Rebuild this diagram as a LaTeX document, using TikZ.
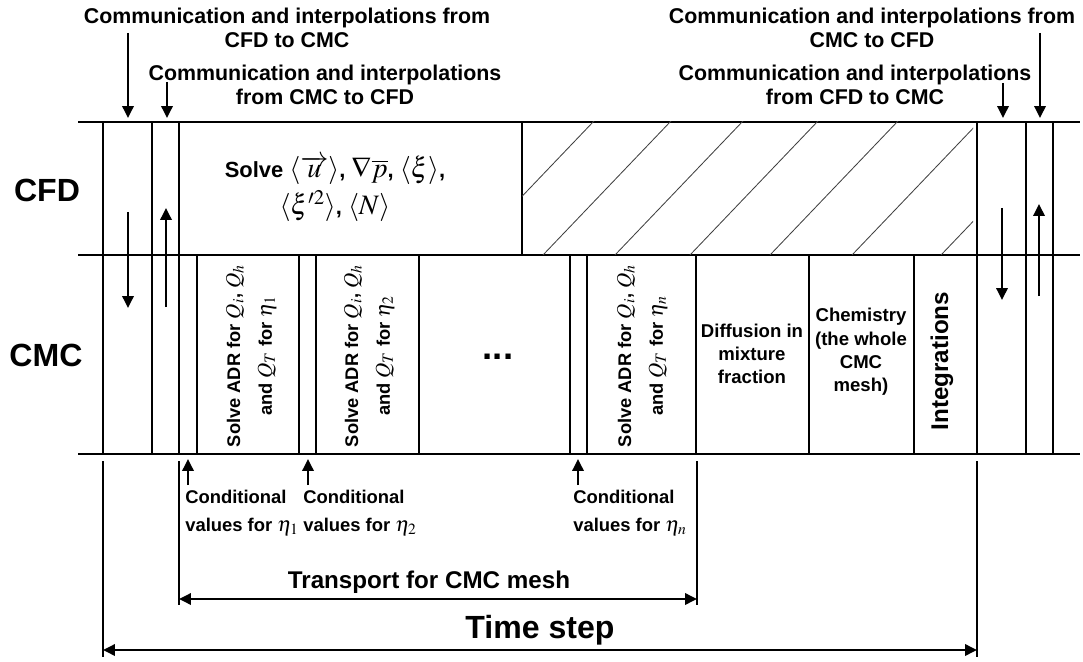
\documentclass[tikz,border=0pt]{standalone}
\usepackage{mathptmx}
\usepackage[no-math]{fontspec}
\setmainfont{Liberation Sans}
\usetikzlibrary{arrows.meta}

\newcommand{\cfdmath}[1]{{\fontsize{20}{26}\selectfont$#1$}}
\newcommand{\cmcmath}[1]{{\fontsize{15}{20}\selectfont$#1$}}

\tikzset{
	bar/.style={line width=1.8pt},
	hatch/.style={line width=0.6pt, black!75},
	tip/.style={bar, -{Triangle[length=8.5pt, width=8pt]}},
	both/.style={bar, {Triangle[length=8.5pt, width=8pt]}-{Triangle[length=8.5pt, width=8pt]}},
	txt/.style={font=\bfseries\fontsize{13.2}{16.6}\selectfont, align=center, inner sep=0pt},
	vtxt/.style={txt, rotate=90, font=\bfseries\fontsize{13}{22.5}\selectfont},
	ctxt/.style={txt, align=left, anchor=north west, font=\bfseries\fontsize{13.1}{20}\selectfont},
	toptxt/.style={txt, font=\bfseries\fontsize{15.2}{16.8}\selectfont},
	midtxt/.style={txt, font=\bfseries\fontsize{17.2}{20}\selectfont},
	bigtxt/.style={txt, font=\bfseries\fontsize{22.8}{26}\selectfont}
}

\begin{document}
\begin{tikzpicture}[x=0.025cm, y=-0.025cm]
	\useasboundingbox (0,0) rectangle (1083,662);

	\draw [bar] (78,122) -- (1080,122);
	\draw [bar] (78,255) -- (1080,255);
	\draw [bar] (78,454) -- (1080,454);

	\foreach \x in {103,152,179,977,1026,1053}
		\draw [bar] (\x,122) -- (\x,454);
	\draw [bar] (522,122) -- (522,255);
	\foreach \x in {197,299,316,419,570,587,696,809,914}
		\draw [bar] (\x,255) -- (\x,454);

	\begin{scope}
		\clip (522,122) rectangle (973,255);
		\foreach \b in {466,543,615,690,770,852,941}
			\draw [hatch] (\b,255) -- ++(128,-134);
	\end{scope}

	\draw [tip] (128,212) -- (128,308);
	\draw [tip] (166,307) -- (166,208);
	\draw [tip] (1002,208) -- (1002,300);
	\draw [tip] (1039,296) -- (1039,204);

	\draw [tip] (128,33) -- (128,118);
	\draw [tip] (167,82) -- (167,118);
	\draw [tip] (1003,83) -- (1003,118);
	\draw [tip] (1040,33) -- (1040,118);

	\foreach \x in {188,308,578}
		\draw [tip] (\x,485) -- (\x,459);

	\draw [bar] (103,461) -- (103,657);
	\draw [bar] (977,461) -- (977,657);
	\draw [bar] (179,461) -- (179,605);
	\draw [bar] (697,461) -- (697,605);
	\draw [both] (179,599) -- (697,599);
	\draw [both] (103,650) -- (977,650);

	\node [bigtxt] (cfd) at (47,190) {CFD};
	\node [bigtxt] (cmc) at (46,355) {CMC};

	\node [toptxt] (tocmc) at (287,28) {Communication and interpolations from\\CFD to CMC};
	\node [toptxt] (tocfd) at (325,85) {Communication and interpolations\\from CMC to CFD};
	\node [toptxt] (backcfd) at (872,28) {Communication and interpolations from\\CMC to CFD};
	\node [toptxt] (backcmc) at (855,85) {Communication and interpolations\\from CFD to CMC};

	\node [txt, font=\bfseries\fontsize{15.6}{26.5}\selectfont] (solve) at (335,189) {Solve \cfdmath{\langle\overrightarrow{u}\rangle}, \cfdmath{\nabla\overline{p}}, \cfdmath{\langle\xi\rangle},\\\cfdmath{\langle\xi'^2\rangle}, \cfdmath{\langle N\rangle}};

	\node [vtxt] (adr1) at (251,356) {Solve ADR for \cmcmath{Q_i}, \cmcmath{Q_h}\\and \cmcmath{Q_T} for \cmcmath{\eta_1}};
	\node [vtxt] (adr2) at (369,356) {Solve ADR for \cmcmath{Q_i}, \cmcmath{Q_h}\\and \cmcmath{Q_T} for \cmcmath{\eta_2}};
	\node [txt, font=\bfseries\fontsize{26}{26}\selectfont] (dots) at (498,357) {...};
	\node [vtxt] (adrn) at (642,356) {Solve ADR for \cmcmath{Q_i}, \cmcmath{Q_h}\\and \cmcmath{Q_T} for \cmcmath{\eta_n}};
	\node [txt] (diff) at (752,354) {Diffusion in\\mixture\\fraction};
	\node [txt] (chem) at (861,352) {Chemistry\\(the whole\\CMC\\mesh)};
	\node [midtxt, rotate=90] (integ) at (942,361) {Integrations};

	\node [ctxt] (cond1) at (185,490) {Conditional\\values for \cmcmath{\eta_1}};
	\node [ctxt] (cond2) at (303,490) {Conditional\\values for \cmcmath{\eta_2}};
	\node [ctxt] (condn) at (573,490) {Conditional\\values for \cmcmath{\eta_n}};

	\node [midtxt] (transport) at (429,582) {Transport for CMC mesh};
	\node [bigtxt] (timestep) at (540,630) {Time step};
\end{tikzpicture}
\end{document}
